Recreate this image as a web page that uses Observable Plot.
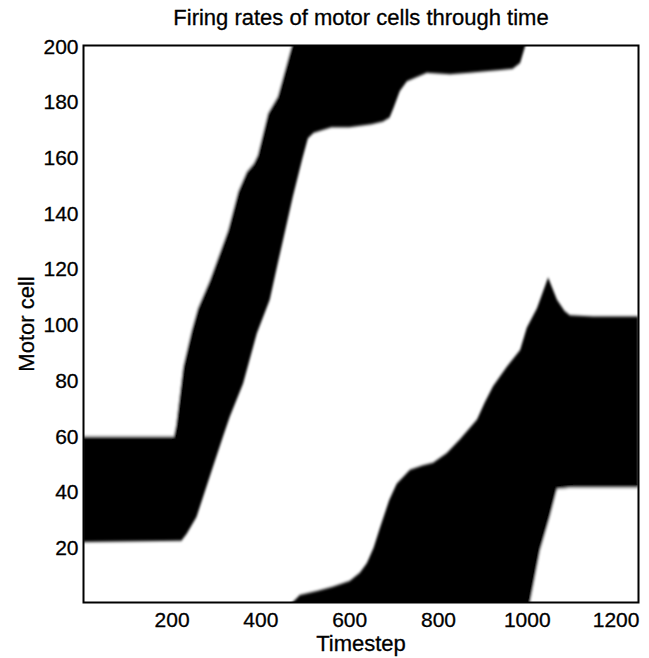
<!DOCTYPE html>
<html>
<head>
<meta charset="utf-8">
<script src="https://cdn.jsdelivr.net/npm/d3@7"></script>
<script src="https://cdn.jsdelivr.net/npm/@observablehq/plot@0.6"></script>
<style>
  html, body { margin: 0; padding: 0; background: #fff; }
  #chart svg text { stroke: #000; stroke-width: 0.3px; }
</style>
</head>
<body>
<div id="chart"></div>
<script>
// ---- Data ----
const titleText = "Firing rates of motor cells through time";
const xLabel = "Timestep";
const yLabel = "Motor cell";
const xTicks = [200, 400, 600, 800, 1000, 1200];
const yTicks = [20, 40, 60, 80, 100, 120, 140, 160, 180, 200];

// Band A (first active group): lower edge (timestep, cell)
const bandALowerT    = [0, 222, 234, 256, 293, 316, 331, 361, 392, 421, 439, 473, 495, 507, 520, 560, 600, 650, 676, 691, 700, 714, 730, 775, 827, 870, 901, 940, 968, 985, 996, 1000];
const bandALowerCell = [22, 22.5, 25, 31, 49, 60, 67, 79, 97, 109, 122, 146, 160, 167, 169, 171, 171, 172, 173, 174.5, 178, 184, 187.5, 190.5, 190, 190.5, 191, 191.5, 192, 194, 200, 203];
// Band A upper edge
const bandAUpperT    = [0, 205, 210, 226, 245, 259, 286, 327, 350, 369, 385, 394, 417, 439, 470, 476];
const bandAUpperCell = [60, 60, 64, 85, 98, 106, 116, 134, 148, 155, 158, 161, 176, 182, 200, 203];

// Band B (second active group): upper edge
const bandBUpperT    = [470, 489, 530, 563, 601, 624, 640, 655, 669, 690, 707, 737, 765, 789, 820, 850, 888, 905, 924, 955, 985, 1000, 1023, 1048, 1068, 1085, 1097, 1150, 1251];
const bandBUpperCell = [0, 3, 4.5, 6, 8, 11, 14.5, 20, 27, 37, 43, 48, 49.5, 50.5, 54, 59, 66, 72, 78, 85, 91, 99, 106, 117, 109, 105, 103.5, 103, 103];
// Band B lower edge
const bandBLowerT    = [1007, 1030, 1052, 1068, 1100, 1251];
const bandBLowerCell = [0, 19, 31, 41, 41.5, 41.5];

const cellTop = 203, cellBottom = -2;

const toRows = (T, C) => T.map((t, i) => ({t, cell: C[i]}));
const aLow = toRows(bandALowerT, bandALowerCell);
const aUp = toRows(bandAUpperT, bandAUpperCell);
const bUp = toRows(bandBUpperT, bandBUpperCell);
const bLow = toRows(bandBLowerT, bandBLowerCell);

const W = 649, H = 658;
const font = "'Liberation Sans', Arial, Helvetica, sans-serif";

const svg = Plot.plot({
  width: W,
  height: H,
  marginLeft: 83,
  marginRight: 11,
  marginTop: 45,
  marginBottom: 56,
  style: {fontFamily: font, fontSize: "21px", color: "black", background: "white"},
  x: {domain: [0.5, 1250.5], ticks: xTicks, tickFormat: d => String(d), tickSize: 0, tickPadding: 10, label: xLabel, labelAnchor: "center", labelOffset: 48},
  y: {domain: [0.5, 200.5], ticks: yTicks, tickFormat: d => String(d), tickSize: 0, tickPadding: 5, label: yLabel, labelAnchor: "center", labelOffset: 65},
  marks: [
    Plot.area(aLow, {x1: "t", y1: "cell", y2: () => cellTop, fill: "black"}),
    Plot.area(aUp, {x1: "t", y1: "cell", y2: () => cellTop, fill: "white"}),
    Plot.area(bUp, {x1: "t", y1: () => cellBottom, y2: "cell", fill: "black"}),
    Plot.area(bLow, {x1: "t", y1: () => cellBottom, y2: "cell", fill: "white"}),
    Plot.text([titleText], {frameAnchor: "top", dy: -36, lineAnchor: "top", fontSize: 22}),
    Plot.frame({stroke: "black", strokeWidth: 2})
  ]
});

// Strip the automatic arrows from the axis labels and size them.
svg.querySelectorAll("text").forEach(t => {
  if (t.textContent.includes(xLabel) || t.textContent.includes(yLabel)) {
    t.textContent = t.textContent.replace(/\s*[→↑←↓]\s*/g, "").trim();
    t.setAttribute("font-size", 22);
  }
});

// Soft (dithered-looking) edges: blur the image layers together, then clip to the frame.
const ns = "http://www.w3.org/2000/svg";
const xr = svg.scale("x").range, yr = svg.scale("y").range;
const defs = document.createElementNS(ns, "defs");
defs.innerHTML = `
  <filter id="fuzz" x="-10%" y="-10%" width="120%" height="120%"><feGaussianBlur stdDeviation="0.8 1.8"/></filter>
  <clipPath id="frameclip"><rect x="${Math.min(...xr)}" y="${Math.min(...yr)}" width="${Math.abs(xr[1]-xr[0])}" height="${Math.abs(yr[1]-yr[0])}"/></clipPath>`;
svg.insertBefore(defs, svg.firstChild);
const layers = Array.from(svg.querySelectorAll('g[aria-label="area"]'));
if (layers.length) {
  const clipG = document.createElementNS(ns, "g");
  clipG.setAttribute("clip-path", "url(#frameclip)");
  const blurG = document.createElementNS(ns, "g");
  blurG.setAttribute("filter", "url(#fuzz)");
  layers[0].parentNode.insertBefore(clipG, layers[0]);
  clipG.appendChild(blurG);
  layers.forEach(g => blurG.appendChild(g));
}

document.getElementById("chart").appendChild(svg);
</script>
</body>
</html>
